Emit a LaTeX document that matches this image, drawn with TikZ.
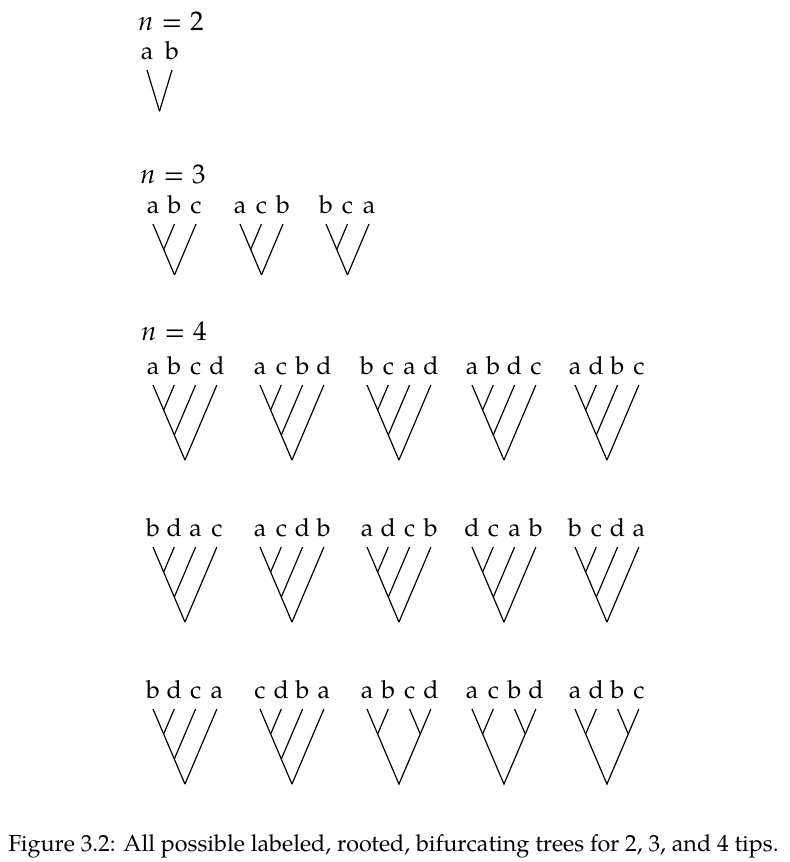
\documentclass[tikz,border=0pt]{standalone}
\usepackage{fontspec}
\setmainfont{TeX Gyre Pagella}
\usepackage{tikz}

\tikzset{
  branch/.style={black, line width=0.6pt},
  tiplabel/.style={anchor=base, inner sep=0pt, font=\fontsize{12.5}{15}\selectfont},
  heading/.style={anchor=base west, inner sep=0pt, font=\fontsize{13.5}{16}\selectfont}
}

% ladder tree: name, x of first tip, top y, tip spacing, slope, number of tips, labels
\newcommand{\laddertree}[7]{%
  \foreach \lab [count=\i] in {#7} {
    \coordinate (#1-t\i) at ({#2+(\i-1)*#4},#3);
    \coordinate (#1-n\i) at ({#2+(\i-1)*#4/2},{#3+#5*(\i-1)*#4/2});
    \path ({#2+(\i-1)*#4},{#3-11}) node[tiplabel] (#1-l\i) {\lab};
  }
  \draw[branch] (#1-t1) -- (#1-n#6);
  \foreach \i in {2,...,#6} {
    \draw[branch] (#1-t\i) -- (#1-n\i);
  }
}

% balanced tree of four tips: name, x of first tip, top y, tip spacing, slope, labels
\newcommand{\balancedtree}[6]{%
  \foreach \lab [count=\i] in {#6} {
    \coordinate (#1-t\i) at ({#2+(\i-1)*#4},#3);
    \path ({#2+(\i-1)*#4},{#3-11}) node[tiplabel] (#1-l\i) {\lab};
  }
  \coordinate (#1-left) at ({#2+#4/2},{#3+#5*#4/2});
  \coordinate (#1-right) at ({#2+2.5*#4},{#3+#5*#4/2});
  \coordinate (#1-root) at ({#2+1.5*#4},{#3+#5*1.5*#4});
  \draw[branch] (#1-t1) -- (#1-root) -- (#1-t4);
  \draw[branch] (#1-t2) -- (#1-left);
  \draw[branch] (#1-t3) -- (#1-right);
}

\begin{document}
\begin{tikzpicture}[x=0.5pt, y=-0.5pt]

\useasboundingbox (0,0) rectangle (790,862);

%% two tips
\path (138,30) node[heading] (ntwo) {\textit{n}\hspace{0.3em}=\hspace{0.3em}2};
\laddertree{two}{147}{70}{25}{3.3}{2}{a,b}

%% three tips
\path (140,183) node[heading] (nthree) {\textit{n}\hspace{0.3em}=\hspace{0.3em}3};
\laddertree{abc}{153}{224}{21.5}{2.37}{3}{a,b,c}
\laddertree{acb}{240}{224}{21.5}{2.37}{3}{a,c,b}
\laddertree{bca}{326}{224}{21.5}{2.37}{3}{b,c,a}

%% four tips
\path (141,340) node[heading] (nfour) {\textit{n}\hspace{0.3em}=\hspace{0.3em}4};

% first row
\laddertree{rAa}{153}{385}{21.3}{2.35}{4}{a,b,c,d}
\laddertree{rAb}{260}{385}{21.3}{2.35}{4}{a,c,b,d}
\laddertree{rAc}{367}{385}{21.3}{2.35}{4}{b,c,a,d}
\laddertree{rAd}{472}{385}{21.3}{2.35}{4}{a,b,d,c}
\laddertree{rAe}{575}{385}{21.3}{2.35}{4}{a,d,b,c}

% second row
\laddertree{rBa}{153}{547}{21.3}{2.35}{4}{b,d,a,c}
\laddertree{rBb}{260}{547}{21.3}{2.35}{4}{a,c,d,b}
\laddertree{rBc}{367}{547}{21.3}{2.35}{4}{a,d,c,b}
\laddertree{rBd}{472}{547}{21.3}{2.35}{4}{d,c,a,b}
\laddertree{rBe}{575}{547}{21.3}{2.35}{4}{b,c,d,a}

% third row, last three are balanced
\laddertree{rCa}{153}{709}{21.3}{2.35}{4}{b,d,c,a}
\laddertree{rCb}{260}{709}{21.3}{2.35}{4}{c,d,b,a}
\balancedtree{rCc}{367}{709}{21.3}{2.35}{a,b,c,d}
\balancedtree{rCd}{472}{709}{21.3}{2.35}{a,c,b,d}
\balancedtree{rCe}{575}{709}{21.3}{2.35}{a,d,b,c}

%% caption
\path (8,851) node[anchor=base west, inner sep=0pt, font=\fontsize{11.65}{14}\selectfont] (caption)
  {Figure 3.2: All possible labeled, rooted, bifurcating trees for 2, 3, and 4 tips.};

\end{tikzpicture}
\end{document}
